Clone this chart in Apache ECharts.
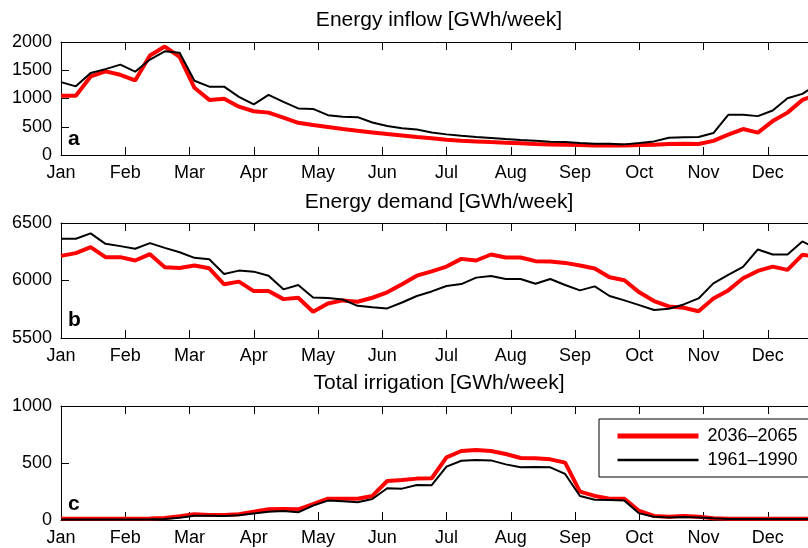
<!DOCTYPE html>
<html>
<head>
<meta charset="utf-8">
<script src="https://cdn.jsdelivr.net/npm/echarts@6/dist/echarts.min.js"></script>
<style>
html,body{margin:0;padding:0;background:#fff;}
#chart{width:808px;height:548px;}
</style>
</head>
<body>
<div id="chart"></div>
<script>
const months = ['Jan','Feb','Mar','Apr','May','Jun','Jul','Aug','Sep','Oct','Nov','Dec'];
const seriesNames = ['2036–2065', '1961–1990'];
const panelTitles = ['Energy inflow [GWh/week]', 'Energy demand [GWh/week]', 'Total irrigation [GWh/week]'];
const panelLetters = ['a', 'b', 'c'];

const inflow2036 = [1050,1050,1390,1480,1420,1320,1760,1920,1735,1190,975,995,855,775,750,660,570,530,495,460,430,400,370,345,320,297,270,253,241,229,218,206,194,188,182,176,170,170,170,176,182,194,200,195,250,360,460,395,600,750,975,1070];
const inflow1961 = [1290,1215,1450,1520,1600,1475,1690,1835,1810,1315,1210,1210,1030,895,1065,940,825,815,705,675,670,575,515,475,450,400,365,341,318,300,282,265,253,235,229,212,200,200,188,212,241,306,312,318,388,711,711,688,788,1005,1082,1250];

const demand2036 = [6214,6238,6290,6203,6203,6174,6229,6115,6109,6130,6106,5967,5990,5908,5908,5838,5850,5728,5800,5827,5815,5850,5897,5967,6042,6080,6121,6188,6174,6226,6200,6200,6168,6165,6153,6130,6104,6028,6002,5897,5821,5774,5763,5733,5844,5914,6019,6083,6121,6092,6223,6210];
const demand1961 = [6363,6363,6410,6319,6299,6276,6325,6284,6246,6197,6185,6057,6086,6077,6042,5923,5961,5853,5847,5835,5780,5768,5757,5809,5865,5905,5952,5969,6025,6039,6013,6013,5972,6013,5961,5914,5949,5865,5827,5786,5743,5754,5792,5844,5975,6048,6118,6270,6226,6226,6340,6275];

const irrigation2036 = [10,10,10,10,10,12,14,18,32,50,44,44,50,73,94,96,94,140,187,187,187,211,342,351,363,366,550,605,614,605,579,544,541,532,503,249,211,187,187,79,35,29,35,29,15,10,10,10,10,10,10,10];
const irrigation1961 = [5,5,5,5,5,5,6,8,20,38,38,35,41,58,73,79,67,126,170,164,155,184,278,275,307,305,468,520,526,523,488,462,465,462,404,211,178,175,170,58,29,23,26,23,15,8,8,8,8,8,8,8];

const yMin = [0, 5500, 0];
const yMax = [2000, 6500, 1000];
const yStep = [500, 500, 500];

const panelData = [[inflow2036, inflow1961], [demand2036, demand1961], [irrigation2036, irrigation1961]];

const FONT = '"Liberation Sans", Arial, Helvetica, sans-serif';
const RED = '#ff0000', BLACK = '#000000';
const grids = [
  {left: 61, top: 42, width: 771, height: 113, containLabel: false, outerBoundsMode: 'none'},
  {left: 61, top: 223, width: 771, height: 115, containLabel: false, outerBoundsMode: 'none'},
  {left: 61, top: 406, width: 771, height: 114, containLabel: false, outerBoundsMode: 'none'}
];
const titleMid = [20.5, 202.5, 383.5];
const letterMid = [139.7, 320.7, 504.7];

const toXY = arr => arr.map((v, i) => [i * 12 / arr.length, v]);

const xAxes = [], yAxes = [], series = [], titles = [];
grids.forEach((g, k) => {
  const common = {
    type: 'value', gridIndex: k, min: 0, max: 12, interval: 1,
    axisLine: {show: true, lineStyle: {color: '#000', width: 1}},
    axisTick: {show: true, inside: true, length: 8, lineStyle: {color: '#000', width: 1}},
    splitLine: {show: false}
  };
  xAxes.push(Object.assign({}, common, {
    position: 'bottom',
    axisLabel: {show: true, color: '#000', fontSize: 18, fontFamily: FONT, margin: 9,
      formatter: v => months[Math.round(v)] || ''}
  }));
  xAxes.push(Object.assign({}, common, {
    position: 'top', axisLabel: {show: false}
  }));
  yAxes.push({
    type: 'value', gridIndex: k, min: yMin[k], max: yMax[k], interval: yStep[k],
    position: 'left',
    axisLine: {show: true, lineStyle: {color: '#000', width: 1}},
    axisTick: {show: true, inside: true, length: 8, lineStyle: {color: '#000', width: 1}},
    splitLine: {show: false},
    axisLabel: {color: '#000', fontSize: 18, fontFamily: FONT, margin: 9,
      formatter: v => String(v)}
  });
  const [fut, base] = panelData[k];
  series.push({
    name: seriesNames[0], type: 'line', xAxisIndex: k * 2, yAxisIndex: k,
    data: toXY(fut), symbol: 'none', showSymbol: false,
    lineStyle: {color: RED, width: 4}, itemStyle: {color: RED}
  });
  series.push({
    name: seriesNames[1], type: 'line', xAxisIndex: k * 2, yAxisIndex: k,
    data: toXY(base), symbol: 'none', showSymbol: false,
    lineStyle: {color: BLACK, width: 2}, itemStyle: {color: BLACK}
  });
  titles.push({
    text: panelTitles[k], left: 439, top: titleMid[k], textAlign: 'center', textVerticalAlign: 'middle',
    padding: 0,
    textStyle: {color: '#000', fontSize: 21, fontWeight: 'normal', fontFamily: FONT}
  });
  titles.push({
    text: panelLetters[k], left: 68, top: letterMid[k], textAlign: 'left', textVerticalAlign: 'middle',
    padding: 0,
    textStyle: {color: '#000', fontSize: 21, fontWeight: 'bold', fontFamily: FONT}
  });
});

const chart = echarts.init(document.getElementById('chart'), null, {renderer: 'canvas'});
chart.setOption({
  animation: false,
  backgroundColor: '#fff',
  title: titles,
  grid: grids,
  xAxis: xAxes,
  yAxis: yAxes,
  legend: {
    data: [
      {name: seriesNames[0], lineStyle: {color: RED, width: 5}},
      {name: seriesNames[1], lineStyle: {color: BLACK, width: 2.5}}
    ],
    orient: 'vertical',
    left: 599, top: 419,
    padding: [8, 12, 8, 16],
    itemWidth: 81, itemHeight: 14, itemGap: 6,
    borderColor: '#000', borderWidth: 1, backgroundColor: '#fff',
    itemStyle: {color: 'transparent', borderWidth: 0, opacity: 0},
    textStyle: {color: '#000', fontSize: 18, fontFamily: FONT, padding: [0, 0, 0, 4]}
  },
  series: series
});
</script>
</body>
</html>
